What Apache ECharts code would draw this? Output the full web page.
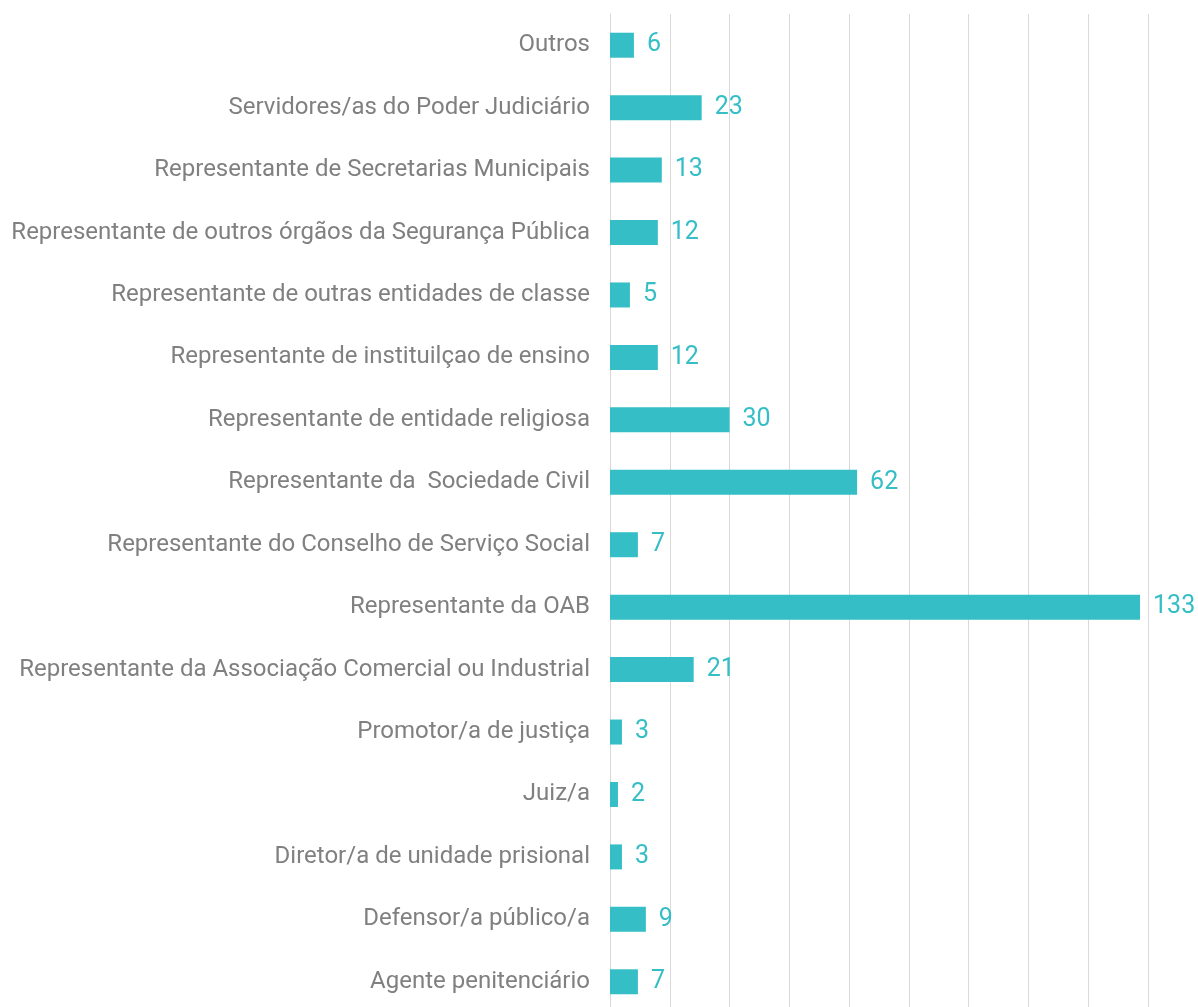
<!DOCTYPE html>
<html><head><meta charset="utf-8">
<script src="https://cdn.jsdelivr.net/npm/echarts@6/dist/echarts.min.js"></script>
<style>html,body{margin:0;padding:0;background:#fff;overflow:hidden}#c{width:1198px;height:1020px}</style>
</head><body><div id="c"></div>
<script>
const categories = [
  "Agente penitenciário",
  "Defensor/a público/a",
  "Diretor/a de unidade prisional",
  "Juiz/a",
  "Promotor/a de justiça",
  "Representante da Associação Comercial ou Industrial",
  "Representante da OAB",
  "Representante do Conselho de Serviço Social",
  "Representante da  Sociedade Civil",
  "Representante de entidade religiosa",
  "Representante de instituilçao de ensino",
  "Representante de outras entidades de classe",
  "Representante de outros órgãos da Segurança Pública",
  "Representante de Secretarias Municipais",
  "Servidores/as do Poder Judiciário",
  "Outros"
];
const values = [7, 9, 3, 2, 3, 21, 133, 7, 62, 30, 12, 5, 12, 13, 23, 6];
const axisMin = 0, axisMax = 135, axisStep = 15;

const chart = echarts.init(document.getElementById('c'), null, {renderer: 'canvas'});
chart.setOption({
  animation: false,
  grid: {left: 610, right: 50, top: 14, bottom: 7, containLabel: false},
  xAxis: {
    type: 'value', min: axisMin, max: axisMax, interval: axisStep,
    axisLabel: {show: false}, axisLine: {show: false}, axisTick: {show: false},
    splitLine: {show: true, lineStyle: {color: '#d9d9d9', width: 1}}
  },
  yAxis: {
    type: 'category', data: categories,
    axisLine: {show: true, lineStyle: {color: '#d9d9d9'}}, axisTick: {show: false},
    axisLabel: {color: '#808080', fontFamily: 'Roboto', fontSize: 24, margin: 20, padding: [3, 0, 0, 0]}
  },
  series: [{
    type: 'bar', data: values, barWidth: 25,
    itemStyle: {color: '#35BEC6'},
    label: {show: true, position: 'right', distance: 13, color: '#35BEC6', fontFamily: 'Roboto', fontSize: 25}
  }]
});
</script></body></html>
